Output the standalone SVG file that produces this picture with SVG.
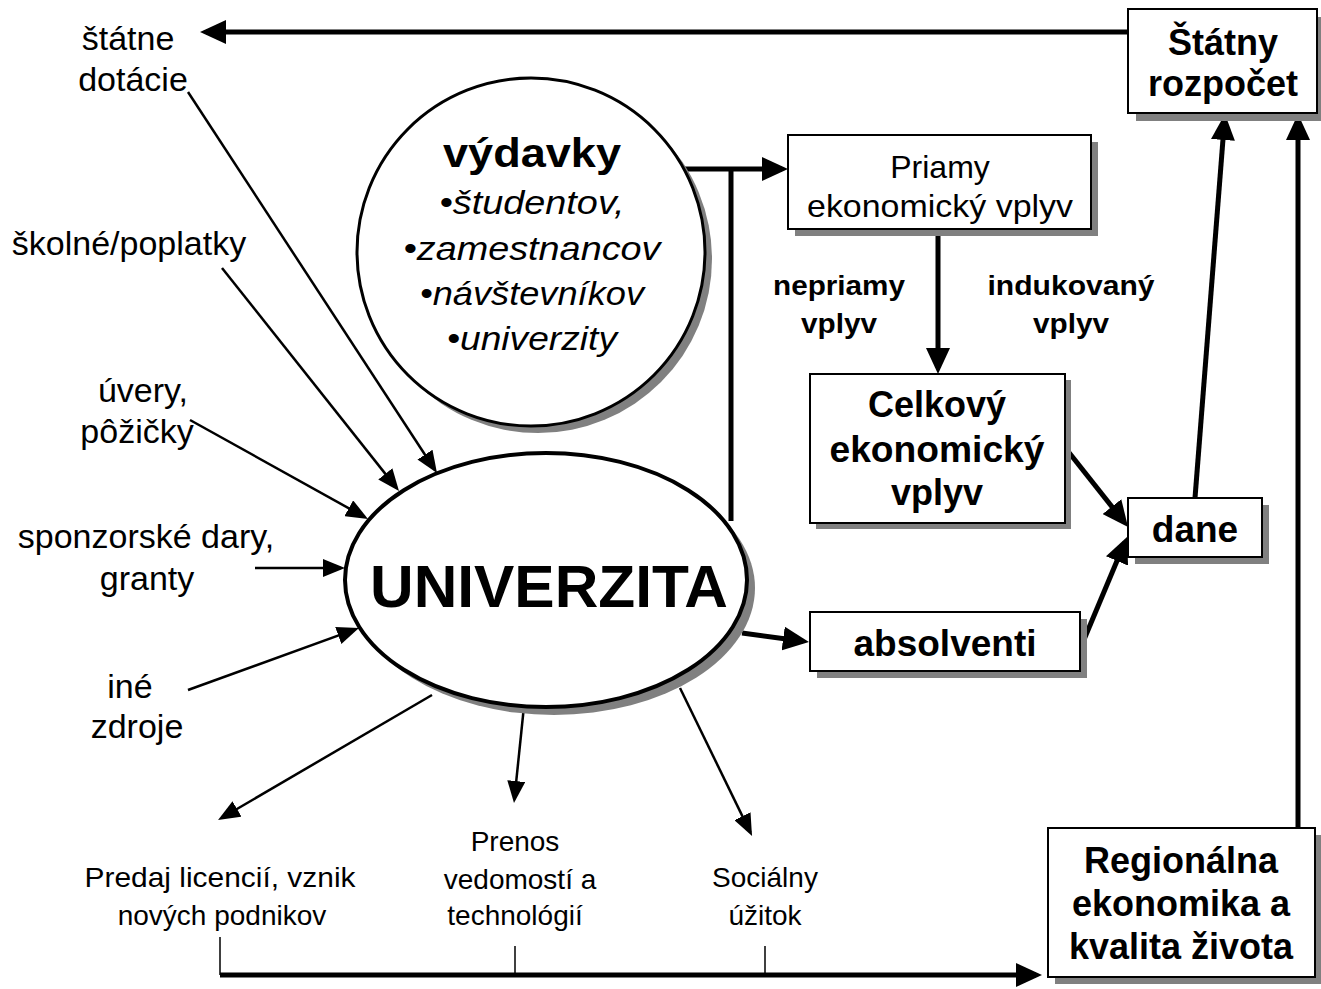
<svg xmlns="http://www.w3.org/2000/svg" width="1321" height="989" viewBox="0 0 1321 989">
<defs>
<style>
.t{font-family:"Liberation Sans",Arial,sans-serif;fill:#000;text-anchor:middle}
.lbl{font-size:34px}
.sm{font-size:28px}
.b{font-weight:bold}
.it{font-style:italic}
.box{fill:#fff;stroke:#000;stroke-width:2}
.sh{fill:#808080}
.thick{stroke:#000;stroke-width:5;fill:none}
.thin{stroke:#000;stroke-width:2.5;fill:none}
.tick{stroke:#000;stroke-width:1.5;fill:none}
</style>
<marker id="ah" markerUnits="userSpaceOnUse" markerWidth="26" markerHeight="24" viewBox="0 0 26 24" refX="20" refY="12" orient="auto"><path d="M0,0 L26,12 L0,24 z" fill="#000"/></marker>
<marker id="as" markerUnits="userSpaceOnUse" markerWidth="22" markerHeight="18" viewBox="0 0 22 18" refX="18" refY="9" orient="auto"><path d="M0,0 L22,9 L0,18 z" fill="#000"/></marker>
</defs>
<rect width="1321" height="989" fill="#fff"/>

<g id="connectors">
<line class="thick" x1="1128" y1="32" x2="206" y2="32" marker-end="url(#ah)"/>
<line class="thick" x1="684" y1="169" x2="782" y2="169" marker-end="url(#ah)"/>
<line class="thick" x1="731" y1="169" x2="731" y2="521"/>
<line class="thick" x1="938" y1="230" x2="938" y2="368" marker-end="url(#ah)"/>
<line class="thick" x1="1067" y1="450" x2="1124.3" y2="522.3" marker-end="url(#ah)"/>
<line class="thick" x1="1083" y1="642" x2="1124.7" y2="542.5" marker-end="url(#ah)"/>
<line class="thick" x1="1195" y1="498" x2="1224.5" y2="120" marker-end="url(#ah)"/>
<line class="thick" x1="1298" y1="828" x2="1298" y2="120" marker-end="url(#ah)"/>
<line class="thick" x1="742" y1="633" x2="803" y2="641.2" marker-end="url(#ah)"/>
<line class="thick" x1="220" y1="975" x2="1036" y2="975" marker-end="url(#ah)"/>
<line class="tick" x1="220" y1="937" x2="220" y2="975"/>
<line class="tick" x1="515" y1="946" x2="515" y2="975"/>
<line class="tick" x1="765" y1="946" x2="765" y2="975"/>
<line class="thin" x1="188" y1="92" x2="434.8" y2="469.7" marker-end="url(#as)"/>
<line class="thin" x1="222" y1="268" x2="396.5" y2="487.9" marker-end="url(#as)"/>
<line class="thin" x1="190" y1="420" x2="364.5" y2="517" marker-end="url(#as)"/>
<line class="thin" x1="255" y1="568" x2="341" y2="568" marker-end="url(#as)"/>
<line class="thin" x1="188" y1="690" x2="355.2" y2="629.4" marker-end="url(#as)"/>
<line class="thin" x1="432" y1="695" x2="221.5" y2="818" marker-end="url(#as)"/>
<line class="thin" x1="524" y1="706" x2="514.4" y2="799" marker-end="url(#as)"/>
<line class="thin" x1="680" y1="688" x2="750.3" y2="832.4" marker-end="url(#as)"/>
</g>

<g id="vydavky">
<circle class="sh" cx="538" cy="259" r="174"/>
<circle cx="531" cy="252" r="174" fill="#fff" stroke="#000" stroke-width="3"/>
<text class="t b" x="532" y="167" font-size="40" textLength="178" lengthAdjust="spacingAndGlyphs">výdavky</text>
<text class="t it" x="532" y="214" font-size="34" textLength="185" lengthAdjust="spacingAndGlyphs">•študentov,</text>
<text class="t it" x="532" y="260" font-size="34" textLength="257" lengthAdjust="spacingAndGlyphs">•zamestnancov</text>
<text class="t it" x="532" y="305" font-size="34" textLength="224" lengthAdjust="spacingAndGlyphs">•návštevníkov</text>
<text class="t it" x="532" y="350" font-size="34" textLength="170" lengthAdjust="spacingAndGlyphs">•univerzity</text>
</g>

<g id="univerzita">
<ellipse class="sh" cx="554" cy="588" rx="201" ry="127"/>
<ellipse cx="546" cy="580" rx="201" ry="127" fill="#fff" stroke="#000" stroke-width="4"/>
<text class="t b" x="549" y="607" font-size="60" textLength="358" lengthAdjust="spacingAndGlyphs">UNIVERZITA</text>
</g>

<g id="statny-rozpocet">
<rect class="sh" x="1136" y="17" width="189" height="104"/>
<rect class="box" x="1128" y="9" width="189" height="104"/>
<text class="t b" x="1223" y="55" font-size="36">Štátny</text>
<text class="t b" x="1223" y="96" font-size="36">rozpočet</text>
</g>

<g id="priamy">
<rect class="sh" x="795" y="142" width="303" height="94"/>
<rect class="box" x="788" y="135" width="303" height="94"/>
<text class="t" x="940" y="178" font-size="32">Priamy</text>
<text class="t" x="940" y="217" font-size="32" textLength="266" lengthAdjust="spacingAndGlyphs">ekonomický vplyv</text>
</g>

<g id="celkovy">
<rect class="sh" x="816" y="380" width="255" height="149"/>
<rect class="box" x="810" y="374" width="255" height="149"/>
<text class="t b" x="937" y="417" font-size="36">Celkový</text>
<text class="t b" x="937" y="462" font-size="36" textLength="215" lengthAdjust="spacingAndGlyphs">ekonomický</text>
<text class="t b" x="937" y="505" font-size="36">vplyv</text>
</g>

<g id="dane">
<rect class="sh" x="1135" y="505" width="134" height="59"/>
<rect class="box" x="1128" y="498" width="134" height="59"/>
<text class="t b" x="1195" y="542" font-size="37">dane</text>
</g>

<g id="absolventi">
<rect class="sh" x="817" y="619" width="270" height="59"/>
<rect class="box" x="810" y="612" width="270" height="59"/>
<text class="t b" x="945" y="656" font-size="37">absolventi</text>
</g>

<g id="regionalna">
<rect class="sh" x="1055" y="835" width="267" height="149"/>
<rect class="box" x="1048" y="828" width="267" height="149"/>
<text class="t b" x="1181" y="873" font-size="36">Regionálna</text>
<text class="t b" x="1181" y="916" font-size="36">ekonomika a</text>
<text class="t b" x="1181" y="959" font-size="36">kvalita života</text>
</g>

<g id="impact-labels">
<text class="t b" x="839" y="295" font-size="27" textLength="132" lengthAdjust="spacingAndGlyphs">nepriamy</text>
<text class="t b" x="839" y="333" font-size="27" textLength="76" lengthAdjust="spacingAndGlyphs">vplyv</text>
<text class="t b" x="1071" y="295" font-size="27" textLength="167" lengthAdjust="spacingAndGlyphs">indukovaný</text>
<text class="t b" x="1071" y="333" font-size="27" textLength="76" lengthAdjust="spacingAndGlyphs">vplyv</text>
</g>

<g id="sources">
<text class="t lbl" x="128" y="50">štátne</text>
<text class="t lbl" x="133" y="91">dotácie</text>
<text class="t lbl" x="129" y="255">školné/poplatky</text>
<text class="t lbl" x="143" y="402">úvery,</text>
<text class="t lbl" x="137" y="443">pôžičky</text>
<text class="t lbl" x="146" y="548">sponzorské dary,</text>
<text class="t lbl" x="147" y="590">granty</text>
<text class="t lbl" x="130" y="698">iné</text>
<text class="t lbl" x="137" y="738">zdroje</text>
</g>

<g id="outputs">
<text class="t sm" x="220" y="887" textLength="271" lengthAdjust="spacingAndGlyphs">Predaj licencií, vznik</text>
<text class="t sm" x="222" y="925">nových podnikov</text>
<text class="t sm" x="515" y="851">Prenos</text>
<text class="t sm" x="520" y="889">vedomostí a</text>
<text class="t sm" x="515" y="925">technológií</text>
<text class="t sm" x="765" y="887">Sociálny</text>
<text class="t sm" x="765" y="925">úžitok</text>
</g>
</svg>
